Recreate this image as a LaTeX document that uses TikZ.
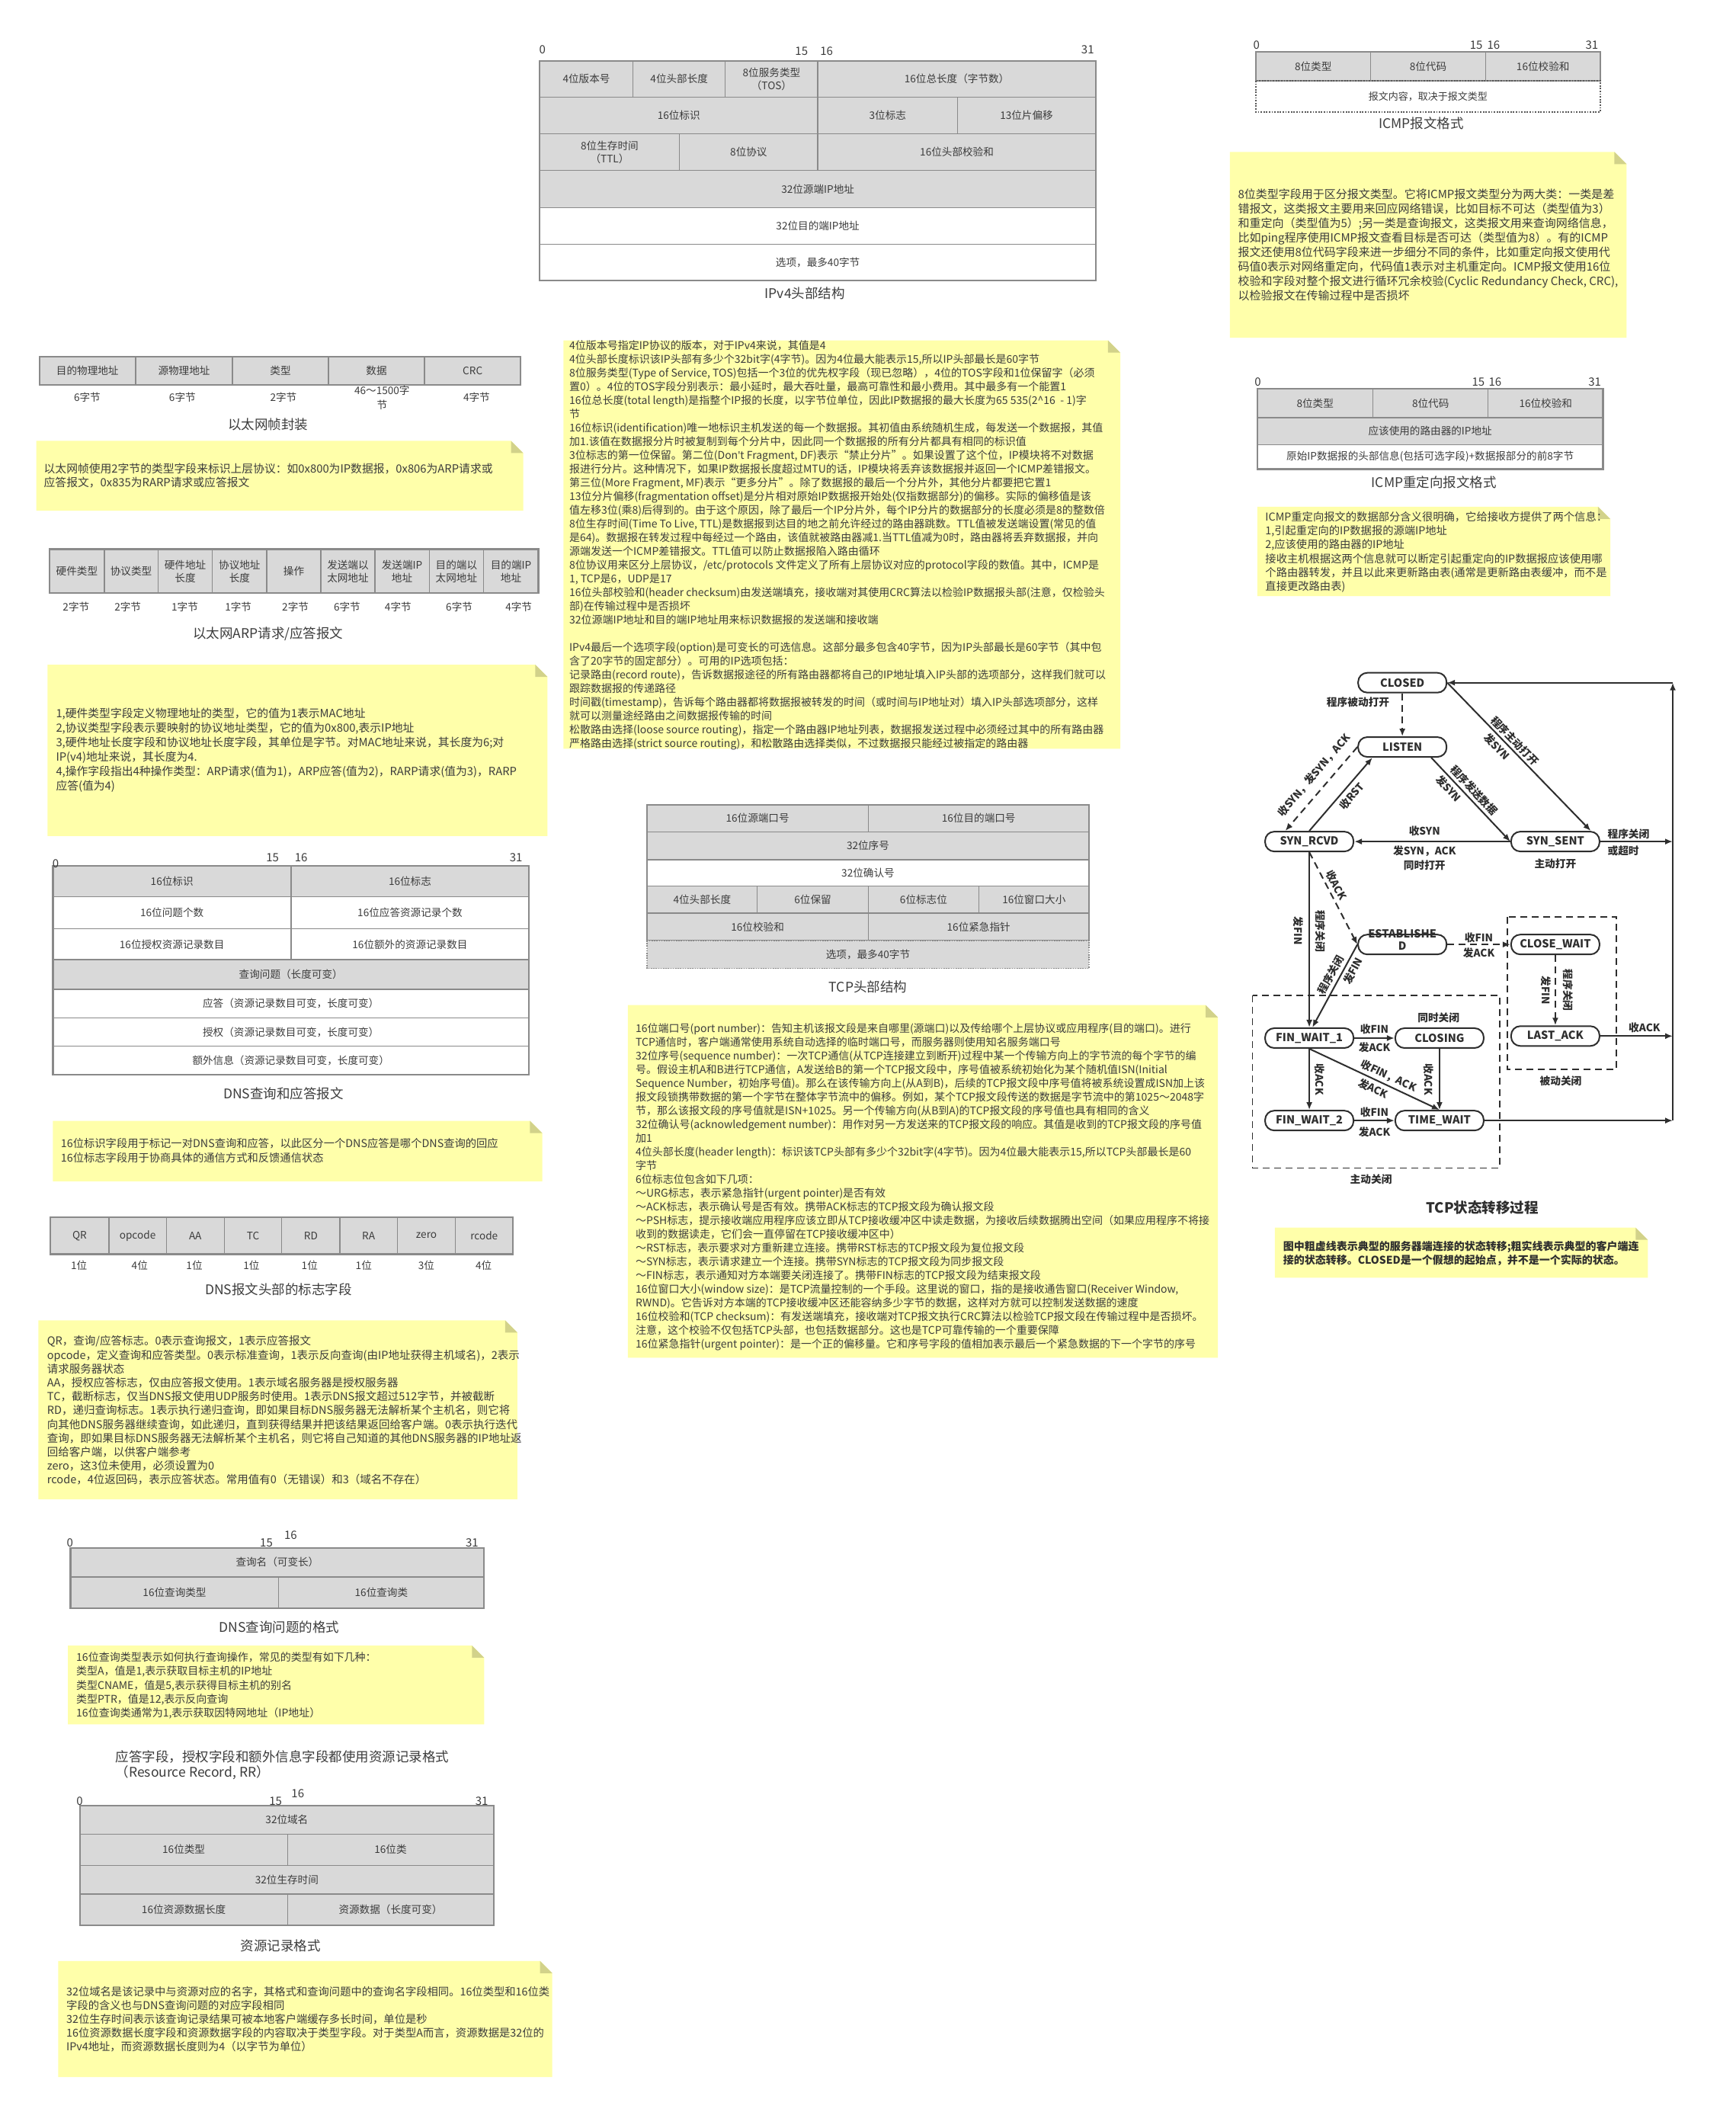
\documentclass[tikz,border=0pt]{standalone}
\usepackage{fontspec}
\setmainfont{Noto Sans CJK SC}
\newfontfamily\latinf{Noto Sans}
\usetikzlibrary{arrows.meta}
\definecolor{cellgray}{HTML}{D9D9D9}
\definecolor{linegray}{HTML}{8A8A8A}
\definecolor{txt}{HTML}{3C3C3C}
\definecolor{notefill}{HTML}{FFFFAA}
\definecolor{foldfill}{HTML}{D2D28A}
\definecolor{dk}{HTML}{2E2E2E}
\newcommand{\myfs}[2]{\fontsize{#1pt}{#2pt}\selectfont}
\tikzset{
  cellg/.style={fill=cellgray, draw=linegray, line width=1.3pt},
  cellw/.style={fill=white, draw=linegray, line width=1.3pt},
  outer/.style={draw=linegray, line width=2.2pt},
  ctext/.style={font=\myfs{13.6}{17}, text=txt, align=center, inner sep=0pt},
  bitno/.style={font=\myfs{15}{16}, text=txt, inner sep=0pt},
  capt/.style={font=\myfs{17.5}{20}, text=txt, inner sep=0pt},
  ntext/.style={text=txt, align=left, inner sep=0pt, anchor=north west},
  st/.style={draw=dk, line width=2pt, rounded corners=12pt, minimum width=116pt, minimum height=26pt, inner sep=0pt, font=\bfseries\myfs{14.5}{16}, text=dk},
  arr/.style={draw=dk, line width=2pt, -{Latex[length=10pt,width=8pt]}},
  darr/.style={arr, dash pattern=on 9pt off 6pt},
  dbox/.style={draw=dk, line width=1.8pt, dash pattern=on 9pt off 6pt},
  elab/.style={font=\bfseries\myfs{13.7}{18.5}, text=dk, inner sep=2pt, align=center},
}
\newcommand{\gcell}[4]{\filldraw[cellg] (#1,#2) rectangle (#3,#4);}
\newcommand{\wcell}[4]{\filldraw[cellw] (#1,#2) rectangle (#3,#4);}
\newcommand{\ct}[4]{\node[ctext] (#1) at (#2,#3) {#4};}
\newcommand{\bn}[4]{\node[bitno] (#1) at (#2,#3) {#4};}
\newcommand{\ynote}[4]{%
  \fill[notefill] (#1,#2) -- ({#3-9},#2) -- (#3,{#2+9}) -- (#3,#4) -- (#1,#4) -- cycle;
  \fill[foldfill] ({#3-9},#2) -- ({#3-9},{#2+9}) -- (#3,{#2+9}) -- cycle;}
\begin{document}
\begin{tikzpicture}[x=1.7797pt,y=-1.7797pt]
\fill[white] (0,0) rectangle (1280,1566.6);
\useasboundingbox (0,0) rectangle (1280,1566.6);

% ================= IPv4 header =================
\gcell{398}{45}{466.8}{71.5}\gcell{466.8}{45}{534.8}{71.5}\gcell{534.8}{45}{603}{71.5}\gcell{603}{45}{808}{71.5}
\gcell{398}{71.5}{603}{98.7}\gcell{603}{71.5}{705.9}{98.7}\gcell{705.9}{71.5}{808}{98.7}
\gcell{398}{98.7}{500.9}{125.5}\gcell{500.9}{98.7}{603}{125.5}\gcell{603}{98.7}{808}{125.5}
\gcell{398}{125.5}{808}{153}
\wcell{398}{153}{808}{180}
\wcell{398}{180}{808}{206.6}
\draw[outer] (398,45) rectangle (808,206.6);
\ct{ip1}{432.4}{58.25}{4位版本号}
\ct{ip2}{500.8}{58.25}{4位头部长度}
\ct{ip3}{568.9}{58.25}{8位服务类型\\（TOS）}
\ct{ip4}{705.5}{58.25}{16位总长度（字节数）}
\ct{ip5}{500.5}{85.1}{16位标识}
\ct{ip6}{654.5}{85.1}{3位标志}
\ct{ip7}{756.9}{85.1}{13位片偏移}
\ct{ip8}{449.5}{112.1}{8位生存时间\\（TTL）}
\ct{ip9}{552}{112.1}{8位协议}
\ct{ip10}{705.5}{112.1}{16位头部校验和}
\ct{ip11}{603}{139.25}{32位源端IP地址}
\ct{ip12}{603}{166.5}{32位目的端IP地址}
\ct{ip13}{603}{193.3}{选项，最多40字节}
\bn{ipb0}{400}{36.5}{0}
\bn{ipb15}{591}{38}{15}
\bn{ipb16}{609.5}{38}{16}
\bn{ipb31}{802}{36.5}{31}
\node[capt] (ipcap) at (593.5,216.3) {IPv4头部结构};

% ================= ICMP =================
\gcell{926}{38.4}{1010.7}{59.6}\gcell{1010.7}{38.4}{1095.4}{59.6}\gcell{1095.4}{38.4}{1180}{59.6}
\draw[outer] (926,38.4) rectangle (1180,59.6);
\draw[draw=dk!80, line width=1.8pt, dash pattern=on 1.8pt off 1.8pt] (926,59.6) rectangle (1180,82.4);
\ct{ic1}{968.3}{49}{8位类型}
\ct{ic2}{1053}{49}{8位代码}
\ct{ic3}{1137.7}{49}{16位校验和}
\node[ctext, font=\myfs{13}{16}] (ic4) at (1053,71) {报文内容，取决于报文类型};
\bn{icb0}{926.4}{33.3}{0}
\bn{icb15}{1088.5}{33.3}{15}
\bn{icb16}{1101.3}{33.3}{16}
\bn{icb31}{1173.8}{33.3}{31}
\node[capt] (iccap) at (1048,90.8) {ICMP报文格式};

\ynote{906.9}{112}{1199.3}{249}
\node[ntext, font=\myfs{15}{19}] (icnote) at (912.7,139.1) {8位类型字段用于区分报文类型。它将ICMP报文类型分为两大类：一类是差\\
错报文，这类报文主要用来回应网络错误，比如目标不可达（类型值为3）\\
和重定向（类型值为5）;另一类是查询报文，这类报文用来查询网络信息，\\
比如ping程序使用ICMP报文查看目标是否可达（类型值为8）。有的ICMP\\
报文还使用8位代码字段来进一步细分不同的条件，比如重定向报文使用代\\
码值0表示对网络重定向，代码值1表示对主机重定向。ICMP报文使用16位\\
校验和字段对整个报文进行循环冗余校验(Cyclic Redundancy Check, CRC),\\
以检验报文在传输过程中是否损坏};

% ================= ICMP redirect =================
\gcell{927}{286.5}{1012.3}{308}\gcell{1012.3}{286.5}{1097.3}{308}\gcell{1097.3}{286.5}{1182}{308}
\gcell{927}{308}{1182}{327.7}
\wcell{927}{327.7}{1182}{345.9}
\draw[outer] (927,286.5) rectangle (1182,345.9);
\ct{ir1}{969.7}{297.2}{8位类型}
\ct{ir2}{1054.8}{297.2}{8位代码}
\ct{ir3}{1139.7}{297.2}{16位校验和}
\ct{ir4}{1054.5}{317.9}{应该使用的路由器的IP地址}
\ct{ir5}{1054.5}{336.8}{原始IP数据报的头部信息(包括可选字段)+数据报部分的前8字节}
\bn{irb0}{927.5}{281.5}{0}
\bn{irb15}{1090}{281.5}{15}
\bn{irb16}{1102.4}{281.5}{16}
\bn{irb31}{1175.9}{281.5}{31}
\node[capt] (ircap) at (1057.4,355.8) {ICMP重定向报文格式};

\ynote{927}{373.6}{1187.3}{439.5}
\node[ntext, font=\myfs{14.3}{18.3}] (irnote) at (932.9,377) {ICMP重定向报文的数据部分含义很明确，它给接收方提供了两个信息：\\
1,引起重定向的IP数据报的源端IP地址\\
2,应该使用的路由器的IP地址\\
接收主机根据这两个信息就可以断定引起重定向的IP数据报应该使用哪\\
个路由器转发，并且以此来更新路由表(通常是更新路由表缓冲，而不是\\
直接更改路由表)};

% ================= Ethernet frame =================
\gcell{29}{263.1}{100}{283.7}\gcell{100}{263.1}{171.4}{283.7}\gcell{171.4}{263.1}{242.1}{283.7}\gcell{242.1}{263.1}{313}{283.7}\gcell{313}{263.1}{384}{283.7}
\draw[outer] (29,263.1) rectangle (384,283.7);
\ct{et1}{64.5}{273.4}{目的物理地址}
\ct{et2}{135.7}{273.4}{源物理地址}
\ct{et3}{206.8}{273.4}{类型}
\ct{et4}{277.6}{273.4}{数据}
\ct{et5}{348.5}{273.4}{CRC}
\ct{es1}{64.3}{293}{6字节}
\ct{es2}{134.5}{293}{6字节}
\ct{es3}{209}{293}{2字节}
\node[ctext, font=\myfs{13.6}{19}] (es4) at (281.7,293.3) {46～1500字\\节};
\ct{es5}{351.4}{293}{4字节}
\node[capt] (etcap) at (197.7,312.7) {以太网帧封装};

\ynote{26.7}{325}{385.8}{376.4}
\node[ntext, font=\myfs{14.8}{18.3}] (etnote) at (32.3,341.3) {以太网帧使用2字节的类型字段来标识上层协议：如0x800为IP数据报，0x806为ARP请求或\\
应答报文，0x835为RARP请求或应答报文};

% ================= ARP =================
\gcell{36.5}{404.9}{76.9}{437.3}\gcell{76.9}{404.9}{116.5}{437.3}\gcell{116.5}{404.9}{156.6}{437.3}
\gcell{156.6}{404.9}{196.7}{437.3}\gcell{196.7}{404.9}{236.6}{437.3}\gcell{236.6}{404.9}{276.4}{437.3}
\gcell{276.4}{404.9}{316.5}{437.3}\gcell{316.5}{404.9}{356.6}{437.3}\gcell{356.6}{404.9}{397}{437.3}
\draw[outer] (36.5,404.9) rectangle (397,437.3);
\ct{ar1}{56.7}{421.1}{硬件类型}
\ct{ar2}{96.7}{421.1}{协议类型}
\ct{ar3}{136.55}{421.1}{硬件地址\\长度}
\ct{ar4}{176.65}{421.1}{协议地址\\长度}
\ct{ar5}{216.65}{421.1}{操作}
\ct{ar6}{256.5}{421.1}{发送端以\\太网地址}
\ct{ar7}{296.45}{421.1}{发送端IP\\地址}
\ct{ar8}{336.55}{421.1}{目的端以\\太网地址}
\ct{ar9}{376.8}{421.1}{目的端IP\\地址}
\ct{as1}{56.1}{447.6}{2字节}
\ct{as2}{94.2}{447.6}{2字节}
\ct{as3}{136.3}{447.6}{1字节}
\ct{as4}{175.7}{447.6}{1字节}
\ct{as5}{217.8}{447.6}{2字节}
\ct{as6}{255.9}{447.6}{6字节}
\ct{as7}{293.5}{447.6}{4字节}
\ct{as8}{338.6}{447.6}{6字节}
\ct{as9}{382.5}{447.6}{4字节}
\node[capt] (arcap) at (197.7,467.2) {以太网ARP请求/应答报文};

\ynote{35.1}{490}{403.7}{616.4}
\node[ntext, font=\myfs{14.8}{19}] (arnote) at (41.2,521.8) {1,硬件类型字段定义物理地址的类型，它的值为1表示MAC地址\\
2,协议类型字段表示要映射的协议地址类型，它的值为0x800,表示IP地址\\
3,硬件地址长度字段和协议地址长度字段，其单位是字节。对MAC地址来说，其长度为6;对\\
IP(v4)地址来说，其长度为4.\\
4,操作字段指出4种操作类型：ARP请求(值为1)，ARP应答(值为2)，RARP请求(值为3)，RARP\\
应答(值为4)};

% ================= DNS header =================
\gcell{39}{638.2}{214.6}{661.2}\gcell{214.6}{638.2}{390}{661.2}
\wcell{39}{661.2}{214.6}{684.7}\wcell{214.6}{661.2}{390}{684.7}
\wcell{39}{684.7}{214.6}{707.5}\wcell{214.6}{684.7}{390}{707.5}
\gcell{39}{707.5}{390}{729.3}
\wcell{39}{729.3}{390}{750.3}
\wcell{39}{750.3}{390}{771.4}
\wcell{39}{771.4}{390}{792.2}
\draw[outer] (39,638.2) rectangle (390,792.2);
\draw[outer] (39,707.5) -- (390,707.5);
\ct{dn1}{126.8}{649.7}{16位标识}
\ct{dn2}{302.3}{649.7}{16位标志}
\ct{dn3}{126.8}{673}{16位问题个数}
\ct{dn4}{302.3}{673}{16位应答资源记录个数}
\ct{dn5}{126.8}{696.1}{16位授权资源记录数目}
\ct{dn6}{302.3}{696.1}{16位额外的资源记录数目}
\ct{dn7}{214.5}{718.4}{查询问题（长度可变）}
\ct{dn8}{214.5}{739.8}{应答（资源记录数目可变，长度可变）}
\ct{dn9}{214.5}{760.9}{授权（资源记录数目可变，长度可变）}
\ct{dn10}{214.5}{781.8}{额外信息（资源记录数目可变，长度可变）}
\bn{dnb0}{41}{636.5}{0}
\bn{dnb15}{201}{632.5}{15}
\bn{dnb16}{222}{632.5}{16}
\bn{dnb31}{380.5}{632.5}{31}
\node[capt] (dncap) at (209,806) {DNS查询和应答报文};

\ynote{39}{826.3}{399.8}{870.9}
\node[ntext, font=\myfs{14.3}{18.5}] (dnnote) at (44.8,839.2) {16位标识字段用于标记一对DNS查询和应答，以此区分一个DNS应答是哪个DNS查询的回应\\
16位标志字段用于协商具体的通信方式和反馈通信状态};

% ================= DNS flags =================
\gcell{37}{897.4}{80.3}{924.6}\gcell{80.3}{897.4}{122.6}{924.6}\gcell{122.6}{897.4}{165.4}{924.6}\gcell{165.4}{897.4}{207.8}{924.6}
\gcell{207.8}{897.4}{250.6}{924.6}\gcell{250.6}{897.4}{292.9}{924.6}\gcell{292.9}{897.4}{335.9}{924.6}\gcell{335.9}{897.4}{378}{924.6}
\draw[outer] (37,897.4) rectangle (378,924.6);
\ct{df1}{58.65}{911}{QR}
\ct{df2}{101.45}{911}{opcode}
\ct{df3}{144}{911}{AA}
\ct{df4}{186.6}{911}{TC}
\ct{df5}{229.2}{911}{RD}
\ct{df6}{271.75}{911}{RA}
\ct{df7}{314.4}{911}{zero}
\ct{df8}{356.95}{911}{rcode}
\ct{ds1}{58.2}{933}{1位}
\ct{ds2}{103}{933}{4位}
\ct{ds3}{143.3}{933}{1位}
\ct{ds4}{185.4}{933}{1位}
\ct{ds5}{228.3}{933}{1位}
\ct{ds6}{268.2}{933}{1位}
\ct{ds7}{314.3}{933}{3位}
\ct{ds8}{356.6}{933}{4位}
\node[capt] (dfcap) at (205.4,950.4) {DNS报文头部的标志字段};

\ynote{28.3}{973.4}{381.5}{1105.4}
\node[ntext, font=\myfs{14.5}{18.2}] (dfnote) at (34.7,984.7) {QR，查询/应答标志。0表示查询报文，1表示应答报文\\
opcode，定义查询和应答类型。0表示标准查询，1表示反向查询(由IP地址获得主机域名)，2表示\\
请求服务器状态\\
AA，授权应答标志，仅由应答报文使用。1表示域名服务器是授权服务器\\
TC，截断标志，仅当DNS报文使用UDP服务时使用。1表示DNS报文超过512字节，并被截断\\
RD，递归查询标志。1表示执行递归查询，即如果目标DNS服务器无法解析某个主机名，则它将\\
向其他DNS服务器继续查询，如此递归，直到获得结果并把该结果返回给客户端。0表示执行迭代\\
查询，即如果目标DNS服务器无法解析某个主机名，则它将自己知道的其他DNS服务器的IP地址返\\
回给客户端，以供客户端参考\\
zero，这3位未使用，必须设置为0\\
rcode，4位返回码，表示应答状态。常用值有0（无错误）和3（域名不存在）};

% ================= DNS question =================
\gcell{52}{1141}{357}{1162.5}
\gcell{52}{1162.5}{205.4}{1185.4}\gcell{205.4}{1162.5}{357}{1185.4}
\draw[outer] (52,1141) rectangle (357,1185.4);
\ct{dq1}{204.5}{1151.8}{查询名（可变长）}
\ct{dq2}{128.7}{1174}{16位查询类型}
\ct{dq3}{281.2}{1174}{16位查询类}
\bn{dqb0}{51.6}{1137.6}{0}
\bn{dqb15}{196.4}{1137.6}{15}
\bn{dqb16}{214.3}{1132}{16}
\bn{dqb31}{348}{1137.6}{31}
\node[capt] (dqcap) at (206,1199.4) {DNS查询问题的格式};

\ynote{50.1}{1213.1}{357}{1271.2}
\node[ntext, font=\myfs{14}{18.2}] (dqnote) at (56.2,1218) {16位查询类型表示如何执行查询操作，常见的类型有如下几种：\\
类型A，值是1,表示获取目标主机的IP地址\\
类型CNAME，值是5,表示获得目标主机的别名\\
类型PTR，值是12,表示反向查询\\
16位查询类通常为1,表示获取因特网地址（IP地址）};

\node[capt, align=left, anchor=north west] (rrhead) at (85.2,1290.1) {应答字段，授权字段和额外信息字段都使用资源记录格式\\（Resource Record, RR）};

% ================= Resource record =================
\gcell{59}{1331}{364}{1352.1}
\gcell{59}{1352.1}{212.1}{1375.1}\gcell{212.1}{1352.1}{364}{1375.1}
\gcell{59}{1375.1}{364}{1396.4}
\gcell{59}{1396.4}{212.1}{1419.5}\gcell{212.1}{1396.4}{364}{1419.5}
\draw[outer] (59,1331) rectangle (364,1419.5);
\ct{rr1}{211.5}{1341.5}{32位域名}
\ct{rr2}{135.5}{1363.6}{16位类型}
\ct{rr3}{288}{1363.6}{16位类}
\ct{rr4}{211.5}{1385.8}{32位生存时间}
\ct{rr5}{135.5}{1408}{16位资源数据长度}
\ct{rr6}{288}{1408}{资源数据（长度可变）}
\bn{rrb0}{58.8}{1328}{0}
\bn{rrb15}{203.2}{1328}{15}
\bn{rrb16}{219.6}{1322.5}{16}
\bn{rrb31}{355.2}{1328}{31}
\node[capt] (rrcap) at (206.8,1434.5) {资源记录格式};

\ynote{42.9}{1445.7}{407.2}{1531.3}
\node[ntext, font=\myfs{14.3}{18}] (rrnote) at (48.9,1464.5) {32位域名是该记录中与资源对应的名字，其格式和查询问题中的查询名字段相同。16位类型和16位类\\
字段的含义也与DNS查询问题的对应字段相同\\
32位生存时间表示该查询记录结果可被本地客户端缓存多长时间，单位是秒\\
16位资源数据长度字段和资源数据字段的内容取决于类型字段。对于类型A而言，资源数据是32位的\\
IPv4地址，而资源数据长度则为4（以字节为单位）};

% ================= IPv4 note =================
\ynote{415.5}{251}{826}{552}
\node[ntext, font=\myfs{14}{18}] (ipnote) at (419.7,251.1) {4位版本号指定IP协议的版本，对于IPv4来说，其值是4\\
4位头部长度标识该IP头部有多少个32bit字(4字节)。因为4位最大能表示15,所以IP头部最长是60字节\\
8位服务类型(Type of Service, TOS)包括一个3位的优先权字段（现已忽略），4位的TOS字段和1位保留字（必须\\
置0）。4位的TOS字段分别表示：最小延时，最大吞吐量，最高可靠性和最小费用。其中最多有一个能置1\\
16位总长度(total length)是指整个IP报的长度，以字节位单位，因此IP数据报的最大长度为65 535(2\textasciicircum16\ \ - 1)字\\
节\\
16位标识(identification)唯一地标识主机发送的每一个数据报。其初值由系统随机生成，每发送一个数据报，其值\\
加1.该值在数据报分片时被复制到每个分片中，因此同一个数据报的所有分片都具有相同的标识值\\
3位标志的第一位保留。第二位(Don{\latinf '}t Fragment, DF)表示“禁止分片”。如果设置了这个位，IP模块将不对数据\\
报进行分片。这种情况下，如果IP数据报长度超过MTU的话，IP模块将丢弃该数据报并返回一个ICMP差错报文。\\
第三位(More Fragment, MF)表示“更多分片”。除了数据报的最后一个分片外，其他分片都要把它置1\\
13位分片偏移(fragmentation offset)是分片相对原始IP数据报开始处(仅指数据部分)的偏移。实际的偏移值是该\\
值左移3位(乘8)后得到的。由于这个原因，除了最后一个IP分片外，每个IP分片的数据部分的长度必须是8的整数倍\\
8位生存时间(Time To Live, TTL)是数据报到达目的地之前允许经过的路由器跳数。TTL值被发送端设置(常见的值\\
是64)。数据报在转发过程中每经过一个路由，该值就被路由器减1.当TTL值减为0时，路由器将丢弃数据报，并向\\
源端发送一个ICMP差错报文。TTL值可以防止数据报陷入路由循环\\
8位协议用来区分上层协议，/etc/protocols 文件定义了所有上层协议对应的protocol字段的数值。其中，ICMP是\\
1, TCP是6，UDP是17\\
16位头部校验和(header checksum)由发送端填充，接收端对其使用CRC算法以检验IP数据报头部(注意，仅检验头\\
部)在传输过程中是否损坏\\
32位源端IP地址和目的端IP地址用来标识数据报的发送端和接收端\\[18pt]
IPv4最后一个选项字段(option)是可变长的可选信息。这部分最多包含40字节，因为IP头部最长是60字节（其中包\\
含了20字节的固定部分）。可用的IP选项包括：\\
记录路由(record route)，告诉数据报途径的所有路由器都将自己的IP地址填入IP头部的选项部分，这样我们就可以\\
跟踪数据报的传递路径\\
时间戳(timestamp)，告诉每个路由器都将数据报被转发的时间（或时间与IP地址对）填入IP头部选项部分，这样\\
就可以测量途经路由之间数据报传输的时间\\
松散路由选择(loose source routing)，指定一个路由器IP地址列表，数据报发送过程中必须经过其中的所有路由器\\
严格路由选择(strict source routing)，和松散路由选择类似，不过数据报只能经过被指定的路由器};

% ================= TCP header =================
\gcell{477}{593.3}{640.3}{613.3}\gcell{640.3}{593.3}{803}{613.3}
\gcell{477}{613.3}{803}{633.9}
\wcell{477}{633.9}{803}{653.2}
\gcell{477}{653.2}{558.4}{673.2}\gcell{558.4}{653.2}{640.3}{673.2}\gcell{640.3}{653.2}{721.8}{673.2}\gcell{721.8}{653.2}{803}{673.2}
\gcell{477}{673.2}{640.3}{693.4}\gcell{640.3}{673.2}{803}{693.4}
\draw[outer] (477,593.3) rectangle (803,693.4);
\fill[cellgray] (477,693.4) rectangle (803,713.9);
\draw[draw=linegray, line width=1.6pt, dash pattern=on 1.6pt off 1.6pt] (477,693.4) rectangle (803,713.9);
\ct{tc1}{558.6}{603.3}{16位源端口号}
\ct{tc2}{721.6}{603.3}{16位目的端口号}
\ct{tc3}{640}{623.6}{32位序号}
\ct{tc4}{640}{643.5}{32位确认号}
\ct{tc5}{517.7}{663.2}{4位头部长度}
\ct{tc6}{599.3}{663.2}{6位保留}
\ct{tc7}{681}{663.2}{6位标志位}
\ct{tc8}{762.4}{663.2}{16位窗口大小}
\ct{tc9}{558.6}{683.3}{16位校验和}
\ct{tc10}{721.6}{683.3}{16位紧急指针}
\ct{tc11}{640}{703.6}{选项，最多40字节}
\node[capt] (tccap) at (640,727.5) {TCP头部结构};

% ================= TCP note =================
\ynote{463}{741}{898}{1001}
\node[ntext, font=\myfs{14}{18}] (tcnote) at (468.6,754.1) {16位端口号(port number)：告知主机该报文段是来自哪里(源端口)以及传给哪个上层协议或应用程序(目的端口)。进行\\
TCP通信时，客户端通常使用系统自动选择的临时端口号，而服务器则使用知名服务端口号\\
32位序号(sequence number)：一次TCP通信(从TCP连接建立到断开)过程中某一个传输方向上的字节流的每个字节的编\\
号。假设主机A和B进行TCP通信，A发送给B的第一个TCP报文段中，序号值被系统初始化为某个随机值ISN(Initial\\
Sequence Number，初始序号值)。那么在该传输方向上(从A到B)，后续的TCP报文段中序号值将被系统设置成ISN加上该\\
报文段锁携带数据的第一个字节在整体字节流中的偏移。例如，某个TCP报文段传送的数据是字节流中的第1025～2048字\\
节，那么该报文段的序号值就是ISN+1025。另一个传输方向(从B到A)的TCP报文段的序号值也具有相同的含义\\
32位确认号(acknowledgement number)：用作对另一方发送来的TCP报文段的响应。其值是收到的TCP报文段的序号值\\
加1\\
4位头部长度(header length)：标识该TCP头部有多少个32bit字(4字节)。因为4位最大能表示15,所以TCP头部最长是60\\
字节\\
6位标志位包含如下几项：\\
～URG标志，表示紧急指针(urgent pointer)是否有效\\
～ACK标志，表示确认号是否有效。携带ACK标志的TCP报文段为确认报文段\\
～PSH标志，提示接收端应用程序应该立即从TCP接收缓冲区中读走数据，为接收后续数据腾出空间（如果应用程序不将接\\
收到的数据读走，它们会一直停留在TCP接收缓冲区中）\\
～RST标志，表示要求对方重新建立连接。携带RST标志的TCP报文段为复位报文段\\
～SYN标志，表示请求建立一个连接。携带SYN标志的TCP报文段为同步报文段\\
～FIN标志，表示通知对方本端要关闭连接了。携带FIN标志的TCP报文段为结束报文段\\
16位窗口大小(window size)：是TCP流量控制的一个手段。这里说的窗口，指的是接收通告窗口(Receiver Window,\\
RWND)。它告诉对方本端的TCP接收缓冲区还能容纳多少字节的数据，这样对方就可以控制发送数据的速度\\
16位校验和(TCP checksum)：有发送端填充，接收端对TCP报文执行CRC算法以检验TCP报文段在传输过程中是否损坏。\\
注意，这个校验不仅包括TCP头部，也包括数据部分。这也是TCP可靠传输的一个重要保障\\
16位紧急指针(urgent pointer)：是一个正的偏移量。它和序号字段的值相加表示最后一个紧急数据的下一个字节的序号};

% ================= TCP state diagram =================
\draw[dbox] (923.5,733.8) rectangle (1105.6,861.1);
\draw[dbox] (1111.5,676) rectangle (1191.9,788.4);
\node[elab] (zdgb) at (1010.9,869.4) {主动关闭};
\node[elab] (bdgb) at (1150.8,797.2) {被动关闭};

\node[st] (CLOSED) at (1034,503.3) {CLOSED};
\node[st] (LISTEN) at (1034,550.7) {LISTEN};
\node[st] (SYNRCVD) at (965.4,620.4) {SYN\_RCVD};
\node[st] (SYNSENT) at (1146.8,620.4) {SYN\_SENT};
\node[st] (EST) at (1034,696.3) {\smash{\begin{tabular}{@{}c@{}}ESTABLISHE\\D\end{tabular}}};
\node[st] (CLOSEWAIT) at (1146.8,696.3) {CLOSE\_WAIT};
\node[st] (FW1) at (965.4,765.3) {FIN\_WAIT\_1};
\node[st] (CLOSING) at (1061.4,765.3) {CLOSING};
\node[st] (LASTACK) at (1146.8,763.8) {LAST\_ACK};
\node[st] (FW2) at (965.4,826.1) {FIN\_WAIT\_2};
\node[st] (TW) at (1061.4,826.1) {TIME\_WAIT};
\coordinate (RT) at (1233.4,503.3);
\coordinate (RS) at (1233.4,620.4);
\coordinate (RL) at (1233.4,763.8);
\coordinate (RB) at (1233.4,826.1);

\draw[darr] (CLOSED) -- (LISTEN) node[elab, pos=0.2, left=14pt] {程序被动打开};
\draw[arr] (CLOSED.east) -- ([xshift=-12.5pt]SYNSENT.north east)
  node[elab, sloped, pos=0.43, above=1pt] {程序主动打开}
  node[elab, sloped, pos=0.39, below=2pt] {发SYN};
\draw[arr] ([xshift=38pt]LISTEN.south) -- (SYNSENT.west)
  node[elab, sloped, pos=0.46, above=2pt] {程序发送数据}
  node[elab, sloped, pos=0.3, below=2pt] {发SYN};
\draw[darr] (LISTEN.west) -- ([xshift=-31.5pt]SYNRCVD.north)
  node[elab, sloped, pos=0.45, above=9pt] {收SYN，发SYN，ACK};
\draw[arr] (SYNRCVD.north) -- ([xshift=-39.3pt]LISTEN.south)
  node[elab, sloped, pos=0.56, below=3pt] {收RST};
\draw[arr] (SYNSENT.west) -- (SYNRCVD.east)
  node[elab, pos=0.55, above=4pt] {收SYN}
  node[elab, pos=0.55, below=3pt] {发SYN，ACK\\同时打开};
\node[elab, below=6pt] (zddk) at (SYNSENT.south) {主动打开};
\draw[arr] (SYNSENT.east) -- (RS)
  node[elab, pos=0.07, anchor=south west] {程序关闭}
  node[elab, pos=0.07, anchor=north west, yshift=-3pt] {或超时};
\draw[arr] (TW.east) -- (RB);
\draw[arr] (RB) -- (RT);
\draw[arr] (RT) -- (CLOSED.east);
\draw[darr] (SYNRCVD.south) -- (EST.west)
  node[elab, sloped, pos=0.4, above=2pt] {收ACK};
\draw[arr] (SYNRCVD.south) -- (FW1.north)
  node[elab, sloped, pos=0.45, above=5pt] {程序关闭}
  node[elab, sloped, pos=0.45, below=5pt] {发FIN};
\draw[arr] (EST.west) -- ([xshift=4pt]FW1.north)
  node[elab, sloped, pos=0.42, above=2pt] {程序关闭}
  node[elab, sloped, pos=0.27, below=2pt] {发FIN};
\draw[darr] (EST.east) -- (CLOSEWAIT.west)
  node[elab, midway, above=0pt, inner sep=1pt] {收FIN}
  node[elab, midway, below=2pt, inner sep=1pt] {发ACK};
\draw[darr] (CLOSEWAIT.south) -- (LASTACK.north)
  node[elab, sloped, pos=0.5, above=7pt] {程序关闭}
  node[elab, sloped, pos=0.5, below=3pt] {发FIN};
\draw[arr] (LASTACK.east) -- (RL) node[elab, pos=0.61, above=1pt] {收ACK};
\draw[arr] (FW1.east) -- (CLOSING.west)
  node[elab, midway, above=2pt] {收FIN}
  node[elab, midway, below=3pt] {发ACK};
\draw[arr] (FW1.south) -- (FW2.north)
  node[elab, sloped, midway, above=4pt] {收ACK};
\draw[arr] (FW1.south) -- (TW.north)
  node[elab, sloped, pos=0.58, above=2pt] {收FIN，ACK}
  node[elab, sloped, pos=0.52, below=2pt] {发ACK};
\draw[arr] (CLOSING.south) -- (TW.north)
  node[elab, sloped, midway, below=5pt] {收ACK};
\draw[arr] (FW2.east) -- (TW.west)
  node[elab, midway, above=1pt] {收FIN}
  node[elab, midway, below=5pt] {发ACK};
\node[elab] (tsgb) at (1060.7,750.5) {同时关闭};
\node[font=\bfseries\myfs{18.5}{20}, text=dk, inner sep=0pt] (tcptitle) at (1093,890.1) {TCP状态转移过程};

\ynote{940}{905}{1215}{942}
\node[ntext, text=dk, font=\bfseries\myfs{14}{18}] (stnote) at (946,915.1) {图中粗虚线表示典型的服务器端连接的状态转移;粗实线表示典型的客户端连\\
接的状态转移。CLOSED是一个假想的起始点，并不是一个实际的状态。};
\end{tikzpicture}
\end{document}
